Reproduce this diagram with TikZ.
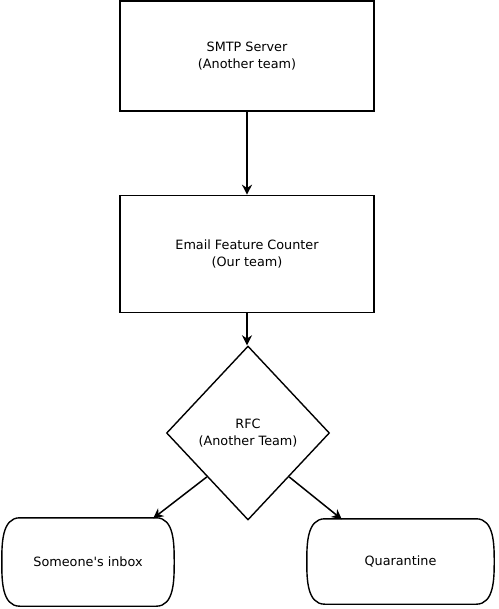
\documentclass[tikz,border=0pt]{standalone}
\usepackage{fontspec}
\newfontfamily\dvs{DejaVu Sans}
\usetikzlibrary{shapes.geometric,arrows.meta,calc}
\newcommand\termoutline[1]{%
  \draw[termline] ($(#1.north west)+(18,0)$) -- ($(#1.north east)+(-18,0)$)
    .. controls ($(#1.north east)+(0,0)$) and ($(#1.north east)+(0,26)$) .. (#1.east)
    .. controls ($(#1.south east)+(0,-26)$) and ($(#1.south east)+(0,0)$) .. ($(#1.south east)+(-18,0)$)
    -- ($(#1.south west)+(18,0)$)
    .. controls ($(#1.south west)+(0,0)$) and ($(#1.south west)+(0,-26)$) .. (#1.west)
    .. controls ($(#1.north west)+(0,26)$) and ($(#1.north west)+(0,0)$) .. cycle;}
\begin{document}
\begin{tikzpicture}[x=1pt,y=-1pt,
  txt/.style={align=center,font=\dvs\fontsize{12.8}{16.5}\selectfont},
  box/.style={draw,line width=1.6pt,minimum width=254pt,inner sep=0pt,txt},
  decision/.style={draw,diamond,line width=1.4pt,minimum width=163pt,minimum height=174pt,inner sep=0pt,txt},
  terminal/.style={inner sep=0pt,txt},
  termline/.style={line width=1.4pt},
  arr/.style={-{Stealth[length=10pt,width=10pt]},line width=1.5pt}]
\useasboundingbox (0,0) rectangle (498,609);
\node[box,minimum height=110pt] (smtp) at (247,56) {SMTP Server\\(Another team)};
\node[box,minimum height=117pt] (efc) at (247,254) {Email Feature Counter\\(Our team)};
\node[decision] (rfc) at (248,433) {RFC\\(Another Team)};
\node[terminal,minimum width=172pt,minimum height=88pt] (inbox) at (88,562) {Someone's inbox};
\node[terminal,minimum width=187pt,minimum height=85pt] (quar) at (400.5,561.5) {Quarantine};
\termoutline{inbox}
\termoutline{quar}
\coordinate (inboxin) at ($(inbox.north east)+(-21,0.5)$);
\coordinate (quarin) at ($(quar.north west)+(35,0.5)$);
\draw[arr] (smtp.south) -- (smtp.south |- efc.north);
\draw[arr] (efc.south) -- (efc.south |- rfc.north);
\draw[arr] ($(rfc.south)!0.5!(rfc.west)$) -- (inboxin);
\draw[arr] ($(rfc.south)!0.5!(rfc.east)$) -- (quarin);
\end{tikzpicture}
\end{document}
